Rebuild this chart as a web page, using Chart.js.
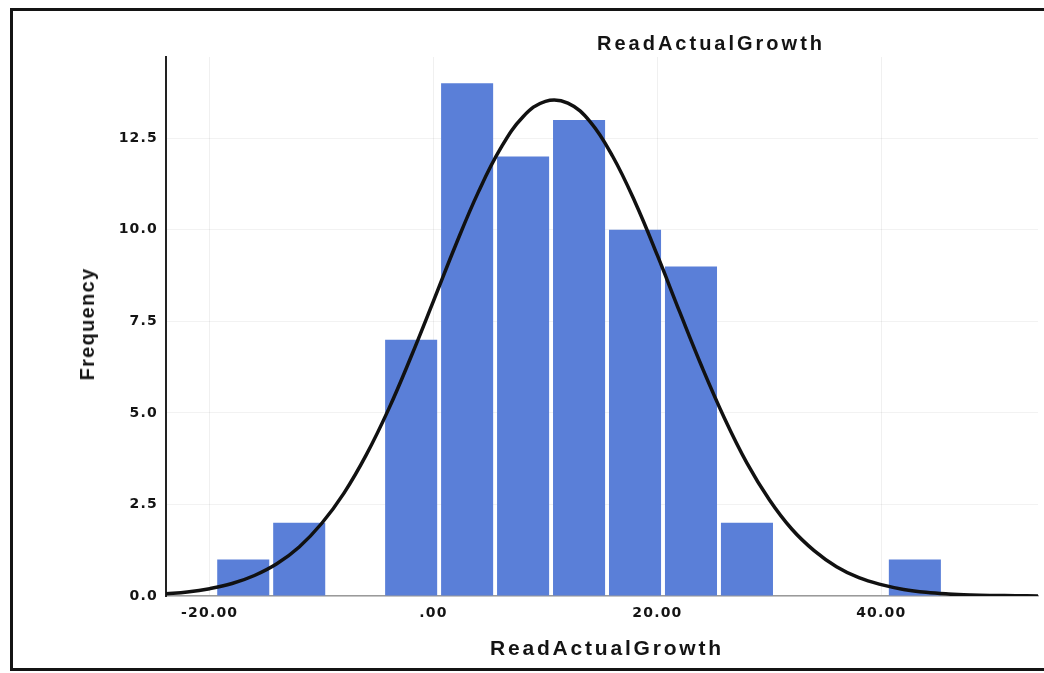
<!DOCTYPE html>
<html>
<head>
<meta charset="utf-8">
<script src="https://cdn.jsdelivr.net/npm/chart.js@4.4.1/dist/chart.umd.min.js"></script>
<style>
  html, body { margin: 0; padding: 0; background: #ffffff; }
  #wrap { position: relative; width: 1044px; height: 673px; overflow: hidden; background: #fff; }
  #frame { position: absolute; left: 10px; top: 8px; width: 1060px; height: 663px; border: 3px solid #141414; box-sizing: border-box; }
  #c { position: absolute; left: 0; top: 0; }
  .ttl { position: absolute; font-family: "Liberation Sans", Arial, sans-serif; font-weight: bold; color: #141414; white-space: nowrap; line-height: 24px; }
  #topTitle { left: 597px; top: 31px; font-size: 20px; letter-spacing: 3px; }
  #xTitle { left: 490px; top: 636px; font-size: 21px; letter-spacing: 2.8px; }
  #yTitle { left: 87px; top: 324px; font-size: 20px; letter-spacing: 1.3px; transform: translate(-50%, -50%) rotate(-90deg); }
</style>
</head>
<body>
<div id="wrap">
  <div id="frame"></div>
  <canvas id="c" width="1044" height="673"></canvas>
  <div class="ttl" id="topTitle">ReadActualGrowth</div>
  <div class="ttl" id="xTitle">ReadActualGrowth</div>
  <div class="ttl" id="yTitle">Frequency</div>
</div>
<script>
// Histogram bins (centres, width 5) and counts
const binCenters = [-17, -12, -7, -2, 3, 8, 13, 18, 23, 28, 33, 38, 43];
const frequencies = [1, 2, 0, 7, 14, 12, 13, 10, 9, 2, 0, 0, 1];

// Normal curve points
const curveX = [-24, -22, -20, -18, -16, -14, -12, -10, -8, -6, -4, -2, 0, 2, 4, 6, 8, 10, 12, 14, 16, 18, 20, 22, 24, 26, 28, 30, 32, 34, 36, 38, 40, 42, 44, 46, 48, 50, 52, 54];
const curveY = [0.06, 0.11, 0.20, 0.34, 0.56, 0.88, 1.34, 1.98, 2.81, 3.86, 5.11, 6.54, 8.06, 9.60, 11.03, 12.23, 13.09, 13.51, 13.46, 12.95, 12.01, 10.76, 9.30, 7.75, 6.24, 4.85, 3.63, 2.63, 1.83, 1.24, 0.80, 0.50, 0.31, 0.18, 0.10, 0.055, 0.029, 0.015, 0.007, 0.003];

// Tick labels
const xTickValues = [-20, 0, 20, 40];
const xTickLabels = ['-20.00', '.00', '20.00', '40.00'];
const yTickValues = [0, 2.5, 5, 7.5, 10, 12.5];
const yTickLabels = ['0.0', '2.5', '5.0', '7.5', '10.0', '12.5'];

const tickFont = { family: '"DejaVu Sans", "Liberation Sans", Arial, sans-serif', size: 14, weight: 'bold' };

const spacingPlugin = {
  id: 'spacing',
  beforeDraw(chart) { chart.ctx.letterSpacing = '1.2px'; }
};

new Chart(document.getElementById('c'), {
  type: 'bar',
  data: {
    datasets: [
      {
        type: 'line',
        data: curveX.map((x, i) => ({ x: x, y: curveY[i] })),
        borderColor: '#111111',
        borderWidth: 3.5,
        pointRadius: 0,
        tension: 0.4,
        fill: false,
        order: 1
      },
      {
        type: 'bar',
        data: binCenters.map((x, i) => ({ x: x, y: frequencies[i] })),
        backgroundColor: '#5a7fd8',
        borderWidth: 0,
        barPercentage: 1.0,
        categoryPercentage: 0.93,
        order: 2
      }
    ]
  },
  options: {
    responsive: false,
    animation: false,
    layout: { padding: { top: 57, right: 6, left: 0, bottom: 0 } },
    plugins: { legend: { display: false }, tooltip: { enabled: false }, title: { display: false } },
    scales: {
      x: {
        type: 'linear',
        min: -23.9,
        max: 54,
        offset: false,
        afterFit(scale) { scale.height = 77; },
        afterBuildTicks(scale) { scale.ticks = xTickValues.map(v => ({ value: v })); },
        grid: { color: 'rgba(0,0,0,0.06)', drawTicks: false, offset: false },
        border: { color: '#9a9a9a', width: 1.5 },
        ticks: {
          padding: 9,
          color: '#141414',
          font: tickFont,
          maxRotation: 0,
          callback: (v) => { const i = xTickValues.indexOf(v); return i >= 0 ? xTickLabels[i] : ''; }
        }
      },
      y: {
        min: 0,
        max: 14.72,
        afterFit(scale) { scale.width = 166; },
        afterBuildTicks(scale) { scale.ticks = yTickValues.map(v => ({ value: v })); },
        grid: { color: 'rgba(0,0,0,0.05)', drawTicks: false },
        border: { color: '#222222', width: 2 },
        ticks: {
          padding: 8,
          color: '#141414',
          font: tickFont,
          callback: (v) => { const i = yTickValues.indexOf(v); return i >= 0 ? yTickLabels[i] : ''; }
        }
      }
    }
  },
  plugins: [spacingPlugin]
});
</script>
</body>
</html>
